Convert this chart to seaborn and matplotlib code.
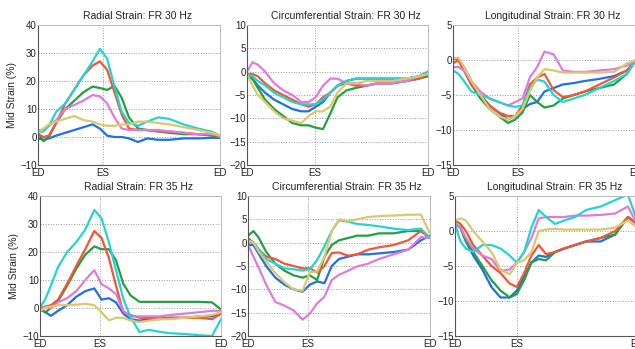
"""
Mid-wall strain curves (radial / circumferential / longitudinal) at two frame rates.
"""

import matplotlib
matplotlib.use("Agg")
import matplotlib.pyplot as plt
import pandas as pd
import seaborn as sns

# ---------------------------------------------------------------------------
# Data (normalised cardiac cycle: 0 = ED, 1 = next ED)
# ---------------------------------------------------------------------------
X = [0, 0.03, 0.06, 0.1, 0.15, 0.2, 0.25, 0.3, 0.34, 0.38, 0.42,
     0.46, 0.5, 0.55, 0.6, 0.66, 0.72, 0.8, 0.88, 0.95, 1.0]

SERIES = ["blue", "green", "red", "pink", "cyan", "yellow"]

RAD30 = {
    "cyan":   [1.5, 2, 4, 9, 12, 17, 22, 27, 31.5, 28, 18, 9, 5, 4, 5.5, 7, 6.5, 4.5, 3, 2, 0.5],
    "red":    [1, 0, 0.5, 5, 12, 17, 22, 25.5, 27, 24, 16, 8, 3, 2.5, 2.5, 2, 2, 1.5, 1, 1, 0],
    "green":  [1.5, -1.5, 0, 5, 10, 13, 16, 18, 17.5, 16.8, 18.3, 14, 7, 3, 2.5, 2, 1.5, 1, 1, 0.5, 0],
    "pink":   [2.5, 2.5, 4, 6, 10, 11.5, 13, 15, 14.5, 12, 7, 3, 2.5, 2.5, 2.5, 2.5, 2, 1.5, 1, 1, 0.5],
    "yellow": [1.5, 3, 4.5, 5.5, 6.5, 7.5, 6, 5.5, 4.5, 4, 4, 4.5, 4.5, 5.5, 5.5, 5, 4.5, 3.5, 2.5, 1.5, 0.5],
    "blue":   [-0.5, -1, -0.5, 0.5, 1.5, 2.5, 3.5, 4.5, 3, 0.5, 0, 0, -0.5, -1.8, -0.5, -1, -1, -0.5, -0.5, -0.3, -0.3],
}

CIRC30 = {
    "pink":   [0, 2, 1.5, 0, -2.5, -4, -5, -6.5, -6.5, -5.5, -3, -1.5, -1.5, -2.5, -2.5, -3, -2.5, -2.5, -2, -1, 0],
    "cyan":   [-0.5, -1, -2, -3, -4.5, -5.5, -6.5, -7, -7, -7, -6, -4.5, -3, -2, -1.5, -1.5, -1.5, -1.5, -1.5, -1, 0],
    "red":    [-0.5, -0.5, -1, -2.5, -4, -5, -6, -7, -7.5, -7, -5.5, -4.5, -3, -2.5, -3, -3, -2.5, -2.5, -2, -1.5, -0.5],
    "blue":   [-1, -1.5, -3, -4.5, -6, -7, -8, -8.5, -8.5, -7.5, -6.5, -4.5, -3, -2, -1.5, -1.5, -1.5, -1.5, -1.5, -1, -0.5],
    "green":  [-0.5, -1.5, -3.5, -6, -8, -9.5, -11, -11.5, -11.5, -12, -12.3, -9, -5.5, -4, -3.5, -3, -2.5, -2.5, -2, -1.5, -1],
    "yellow": [-0.5, -3, -5, -6.5, -8.5, -10, -10.5, -11, -9.5, -8.5, -8.5, -7.5, -4.5, -2.5, -2.5, -2, -2, -2, -1.5, -1, -0.5],
}

LONG30 = {
    "blue":   [0.3, 0, -1, -3, -5, -6.5, -7.5, -8.5, -8, -7, -6.3, -6, -4.5, -4, -3.5, -3.3, -3, -2.7, -2.3, -1.5, 0],
    "red":    [-0.5, 0, -1.5, -3.5, -5, -6.5, -7.5, -8, -8, -6.5, -3.5, -2.5, -2, -4.3, -5.3, -5, -4.5, -3.5, -2.5, -1.5, 0],
    "green":  [0.3, 0, -1.5, -3.5, -5.5, -7, -8, -9, -8.5, -7.5, -5, -6, -6.8, -6.5, -5.5, -5, -4.5, -4, -3.5, -2, 0],
    "cyan":   [-1.5, -2, -3, -4.5, -5, -5.5, -6, -6.5, -6.7, -6.5, -4, -2.8, -3.1, -5, -6, -5.5, -5, -4, -3, -2, 0],
    "pink":   [-1, -1, -1.5, -3, -4.5, -5.5, -6, -6.5, -6, -5.5, -2.5, -1, 1.2, 0.8, -1.5, -1.7, -1.7, -1.5, -1.3, -0.8, 0],
    "yellow": [0.2, 0.3, -1, -3, -5, -7, -8, -8.5, -8, -7, -4.5, -2.5, -1.3, -1.5, -1.8, -1.8, -1.8, -1.8, -1.7, -0.5, 0],
}

RAD35 = {
    "cyan":   [0, 3.3, 8, 14.7, 20, 23.5, 28, 35, 32, 23.6, 13.5, 3.3, -3.2, -8.6, -7.8, -8.5, -9, -9.3, -9.7, -10, -4],
    "red":    [0, 0.5, 1, 3, 8.7, 15, 21, 27.5, 25, 18, 8, -1.5, -2.5, -3.5, -3.5, -3.5, -3.5, -3.5, -3.5, -4, -2],
    "green":  [-0.5, -1.5, 0, 2.5, 8, 14, 19, 22, 21, 21, 17, 8.7, 4.5, 2.2, 2.2, 2.2, 2.2, 2.2, 2.2, 2, -0.5],
    "pink":   [-0.5, 0.5, 0, 2, 3.5, 6, 10, 13.5, 8.5, 7, 5, -1, -3, -3, -3, -3, -2.5, -2, -1.5, -1, -1],
    "blue":   [-0.5, -1.5, -2.8, -1, 1, 4, 6, 7, 3, 3.5, 2, -2, -4, -4.5, -4, -4, -3.5, -3.5, -3, -3, -1.5],
    "yellow": [-1, 0, 0.5, 1, 1, 1.2, 1.5, 1, -1.5, -4.4, -3.5, -3.5, -4.5, -5, -4.5, -4, -4, -3.5, -3, -2.5, -1.5],
}

CIRC35 = {
    "yellow": [0.5, 0, -2, -4, -6.5, -8.5, -10, -10.3, -6.3, -6.2, -3, 2.4, 5, 4.6, 5, 5.5, 5.7, 5.8, 6, 6, 2],
    "cyan":   [0, 0, -1.5, -3.5, -4.5, -5.5, -5.7, -6, -5.7, -3.7, -0.8, 2.5, 4.8, 4.5, 4, 3.8, 3.5, 3, 2.7, 3, 1],
    "green":  [1.5, 2.5, 1, -2, -4.5, -6, -7, -7.5, -7, -8, -3, -0.5, 0.5, 1, 1.5, 1.5, 2, 2, 2.5, 2.5, 1],
    "red":    [1, 0, -1.5, -3, -3.5, -4.5, -5, -5.5, -5.5, -6.4, -5, -2.2, -2.1, -2.8, -2.5, -1.5, -1, -0.5, 0.5, 2.5, 1],
    "blue":   [-0.5, -0.5, -2.5, -5, -7.5, -9, -10, -10.5, -9, -8.3, -8.7, -5, -3.5, -3, -2.5, -2.5, -2.3, -2, -1.5, 0.5, 1.5],
    "pink":   [-0.5, -3, -5.5, -9, -12.7, -13.5, -14.5, -16.5, -15.2, -13, -11.6, -8, -6.9, -6, -5.1, -4.5, -3.5, -2.5, -1.5, 1.2, 1],
}

LONG35 = {
    "cyan":   [1, -1.5, -2.5, -3, -2, -2, -2.5, -3.5, -4.5, -3, 0.5, 3, 2, 1, 1.5, 2, 3, 3.5, 4.4, 5.2, 1.5],
    "pink":   [1, 0.5, -1, -2.5, -3.5, -4, -5.7, -5.5, -4.5, -3, -1, 1.8, 2, 2, 2, 2.2, 2.2, 2.3, 2.5, 3.5, 1],
    "yellow": [1.5, 1.8, 1.5, 0, -1.5, -3, -5.5, -6.2, -4.5, -4.2, -3, 0, 0.2, 0.3, 0.2, 0.2, 0.2, 0.2, 0.5, 1.5, 0.5],
    "red":    [1.5, 1, 0, -2, -3.5, -5, -6, -7.5, -8, -6, -3.5, -2, -3.3, -3, -2.5, -2, -1.5, -1, 0, 2, 1],
    "green":  [1, 0.5, -1.5, -3, -5, -7, -8.5, -9.5, -9, -7, -4.5, -4, -4.2, -3, -2.5, -2, -1.5, -1, -0.5, 2, 1],
    "blue":   [1, 0.5, -1.5, -3.5, -5.5, -8, -9.5, -9.5, -8.5, -6.5, -4.5, -3.5, -3.7, -3, -2.5, -2, -1.5, -1.5, -0.5, 2, 1],
}

PALETTE = {
    "blue":   "#1f6fe6",
    "green":  "#22a040",
    "red":    "#f45536",
    "pink":   "#e07ade",
    "cyan":   "#22d4d4",
    "yellow": "#dcc86c",
}

# ---------------------------------------------------------------------------
# Panel layout: (data, title, ylim, ystep, ES position, axes rect in figure px)
# ---------------------------------------------------------------------------
W, H = 635, 349
PANELS = [
    (RAD30,  "Radial Strain: FR 30 Hz",          (-10, 40), 10, 0.357, (38, 25, 182, 140)),
    (CIRC30, "Circumferential Strain: FR 30 Hz", (-20, 10), 5,  0.375, (247, 25, 181, 140)),
    (LONG30, "Longitudinal Strain: FR 30 Hz",    (-15, 5),  5,  0.355, (453, 25, 183, 140)),
    (RAD35,  "Radial Strain: FR 35 Hz",          (-10, 40), 10, 0.33,  (40, 196, 181, 140)),
    (CIRC35, "Circumferential Strain: FR 35 Hz", (-20, 10), 5,  0.33,  (248, 196, 182, 140)),
    (LONG35, "Longitudinal Strain: FR 35 Hz",    (-15, 5),  5,  0.34,  (455, 196, 182, 140)),
]

sns.set_theme(style="white")
plt.rcParams["font.family"] = ["Liberation Sans", "DejaVu Sans"]

fig = plt.figure(figsize=(W / 100, H / 100), dpi=100)

for i, (data, title, ylim, ystep, es, (px, py, pw, ph)) in enumerate(PANELS):
    ax = fig.add_axes([px / W, 1 - (py + ph) / H, pw / W, ph / H])

    df = pd.DataFrame(
        [(x, v, s) for s in SERIES for x, v in zip(X, data[s])],
        columns=["x", "strain", "series"],
    )
    sns.lineplot(data=df, x="x", y="strain", hue="series", hue_order=SERIES,
                 palette=PALETTE, estimator=None, sort=False, legend=False,
                 linewidth=1.6, ax=ax)

    ax.set_xlim(0, 1)
    ax.set_ylim(*ylim)
    ax.set_xticks([0, es, 1])
    ax.set_xticklabels(["ED", "ES", "ED"])
    ax.set_yticks(range(ylim[0], ylim[1] + 1, ystep))
    ax.tick_params(axis="both", labelsize=7, length=2, direction="in",
                   colors="#222222")
    ax.tick_params(axis="x", pad=2.5)
    ax.tick_params(axis="y", pad=1)
    ax.grid(True, linestyle=":", color="#999999", linewidth=0.7)

    for side in ("left", "bottom"):
        ax.spines[side].set_color("#555555")
        ax.spines[side].set_linewidth(0.8)
    for side in ("top", "right"):
        ax.spines[side].set_color("#bbbbbb")
        ax.spines[side].set_linewidth(0.7)

    ax.set_xlabel("")
    ax.set_ylabel("Mid Strain (%)" if i % 3 == 0 else "", fontsize=7.5,
                  labelpad=2)
    ax.set_title(title, fontsize=7.5, x=0.545, pad=4, color="#222222")

fig.savefig("out.png", dpi=100)
